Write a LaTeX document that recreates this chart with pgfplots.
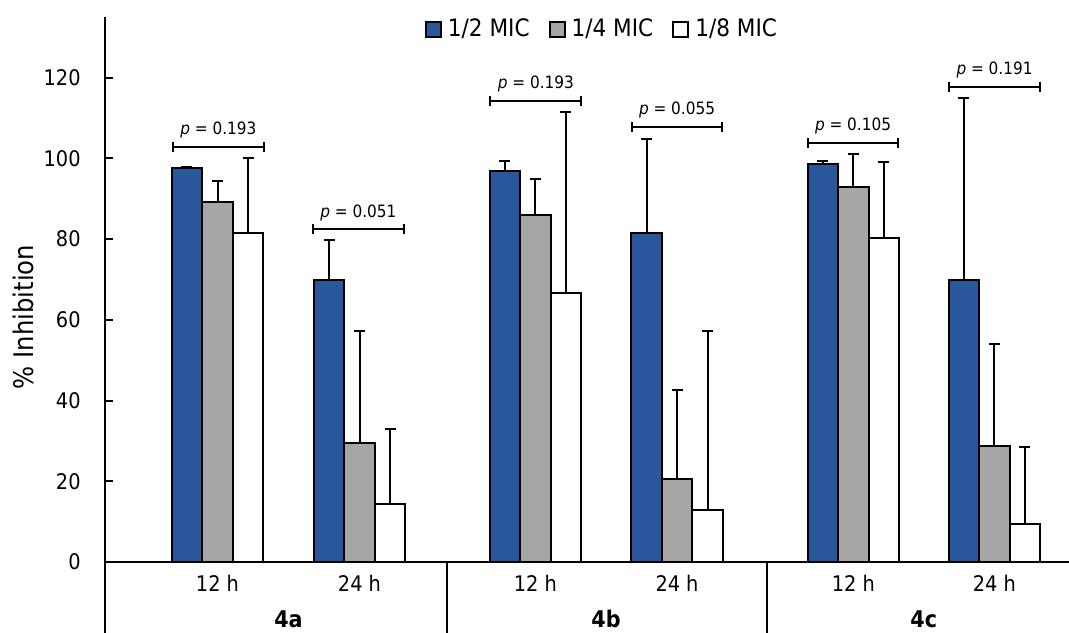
\documentclass[border=0pt]{standalone}
\usepackage{pgfplots}
\pgfplotsset{compat=1.18}
\usepackage{pgfplotstable}
\usepackage{fontspec}
\setmainfont{DejaVu Sans Condensed}
\usetikzlibrary{arrows.meta}
\definecolor{micblue}{RGB}{42,86,156}
\definecolor{micgray}{RGB}{166,166,166}

% x = centre of each bar
\pgfplotstableread{
x y e
187.0 97.6 0.2
329.0 69.8 9.9
504.8 96.9 2.4
646.5 81.6 23.1
822.8 98.7 0.7
963.8 69.9 45.0
}\half
\pgfplotstableread{
x y e
217.5 89.1 5.4
359.5 29.6 27.7
535.3 86.0 8.9
677.0 20.5 22.1
853.3 92.9 8.2
994.3 28.8 25.2
}\quarter
\pgfplotstableread{
x y e
248.0 81.6 18.4
390.0 14.3 18.6
565.8 66.7 44.7
707.5 12.9 44.4
883.8 80.2 18.8
1024.8 9.4 19.0
}\eighth

\begin{document}
\begin{tikzpicture}
\begin{axis}[
  scale only axis, width=482pt, height=272.5pt,
  xmin=105, xmax=1069, ymin=0, ymax=135,
  axis lines=left, axis line style={-, line width=1pt, black},
  clip=false,
  /pgf/number format/assume math mode=true,
  ytick={0,20,...,120},
  tick align=inside, major tick length=4pt,
  ytick style={line width=1pt, black},
  xtick={217.5,359.5,535.3,677,853.3,994.3},
  xticklabels={12 h,24 h,12 h,24 h,12 h,24 h},
  xtick style={draw=none},
  yticklabel style={font=\fontsize{10.75}{12}\selectfont, anchor=east, inner sep=0pt, xshift=-12pt},
  xticklabel style={font=\fontsize{10.75}{12}\selectfont, anchor=center, inner sep=0pt, yshift=-10.5pt},
  ylabel={\% Inhibition},
  ylabel style={font=\fontsize{13.5}{15}\selectfont, at={(rel axis cs:-0.0851,0.4496)}, anchor=center},
  legend columns=3,
  legend style={draw=none, fill=none, at={(axis cs:601,131.9)}, anchor=center,
    font=\fontsize{12}{14}\selectfont, inner sep=0pt,
    /tikz/every odd column/.append style={column sep=3pt},
    /tikz/every even column/.append style={column sep=9.5pt},
    nodes={inner sep=0pt}},
  legend image code/.code={\draw[#1, line width=1pt, draw=black] (0pt,-3.75pt) rectangle (7.5pt,3.75pt);},
  every axis plot/.append style={ybar, bar width=30.5, bar shift=0, draw=black, line width=1pt,
    /pgfplots/error bars/y dir=plus, /pgfplots/error bars/y explicit,
    /pgfplots/error bars/error bar style={line width=1pt, black, solid},
    /pgfplots/error bars/error mark options={line width=1pt, mark size=2.75pt, black, rotate=90}},
]
\addplot[fill=micblue] table[x=x, y=y, y error=e] {\half};
\addlegendentry{1/2 MIC}
\addplot[fill=micgray] table[x=x, y=y, y error=e] {\quarter};
\addlegendentry{1/4 MIC}
\addplot[fill=white] table[x=x, y=y, y error=e] {\eighth};
\addlegendentry{1/8 MIC}

% lower category frame
\draw[line width=1pt] (axis cs:105,0) -- (axis cs:105,-20);
\draw[line width=1pt] (axis cs:447,0) -- (axis cs:447,-20);
\draw[line width=1pt] (axis cs:767,0) -- (axis cs:767,-20);
\node[font=\bfseries\fontsize{11.5}{13}\selectfont, inner sep=0pt] at (axis cs:288.5,-14.1) {4a};
\node[font=\bfseries\fontsize{11.5}{13}\selectfont, inner sep=0pt] at (axis cs:606,-14.1) {4b};
\node[font=\bfseries\fontsize{11.5}{13}\selectfont, inner sep=0pt] at (axis cs:923.8,-14.1) {4c};

% p-value brackets
\tikzset{pbr/.style={line width=1pt, {Bar[width=5pt,line width=1pt]}-{Bar[width=5pt,line width=1pt]}},
         ptx/.style={font=\fontsize{8.5}{10}\selectfont, anchor=base, inner sep=0pt}}
\draw[pbr] (axis cs:171.7,102.9) -- (axis cs:265,102.9);
\node[ptx] at (axis cs:218.4,105.9) {{\itshape p} = 0.193};
\draw[pbr] (axis cs:311.7,82.4) -- (axis cs:405,82.4);
\node[ptx] at (axis cs:358.4,85.4) {{\itshape p} = 0.051};
\draw[pbr] (axis cs:489.3,114.3) -- (axis cs:582.3,114.3);
\node[ptx] at (axis cs:535.8,117.3) {{\itshape p} = 0.193};
\draw[pbr] (axis cs:630.7,107.8) -- (axis cs:723.3,107.8);
\node[ptx] at (axis cs:677,110.8) {{\itshape p} = 0.055};
\draw[pbr] (axis cs:806.7,103.9) -- (axis cs:899.3,103.9);
\node[ptx] at (axis cs:853,106.9) {{\itshape p} = 0.105};
\draw[pbr] (axis cs:948.3,117.7) -- (axis cs:1040.7,117.7);
\node[ptx] at (axis cs:994.5,120.7) {{\itshape p} = 0.191};
\end{axis}
\pgfresetboundingbox
\path[use as bounding box] (-52.5pt,-35pt) rectangle (482pt,281pt);
\end{tikzpicture}
\end{document}
